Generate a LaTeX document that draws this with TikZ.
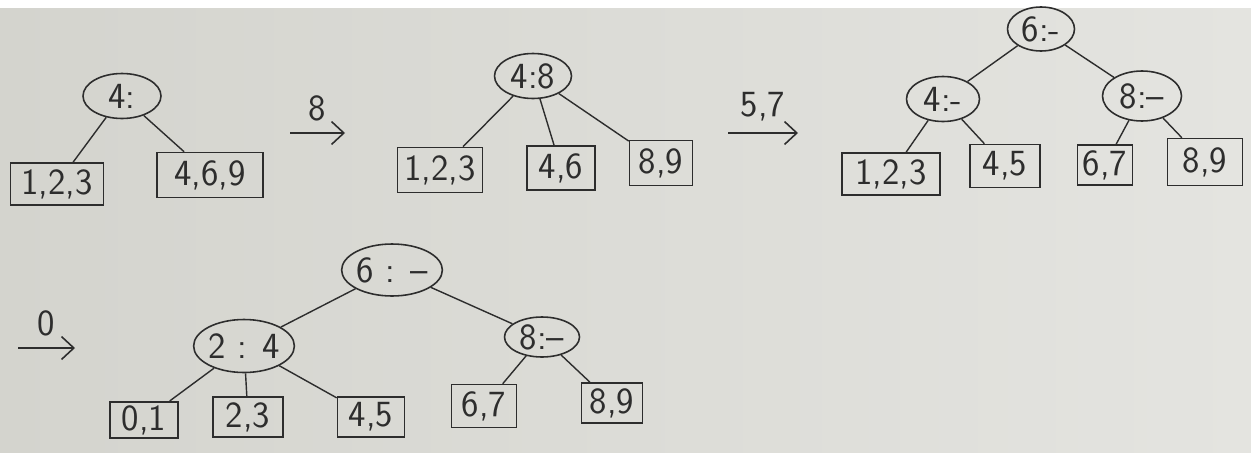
\documentclass[tikz,border=0pt]{standalone}
\usepackage{tikz}
\usetikzlibrary{shapes.geometric,arrows.meta}
\definecolor{ink}{RGB}{45,45,45}
\definecolor{paperL}{RGB}{212,212,206}
\definecolor{paperR}{RGB}{228,228,224}

\begin{document}
\begin{tikzpicture}[x=0.02cm, y=-0.02cm,
  every node/.style={font=\sffamily\fontsize{21}{24}\selectfont, text=ink},
  keyn/.style={draw=ink, line width=0.9pt, ellipse, inner sep=0pt, minimum width=1.5cm, minimum height=0.9cm},
  leaf/.style={draw=ink, line width=0.9pt, rectangle, inner sep=2pt, minimum height=0.84cm},
  edge/.style={draw=ink, line width=0.8pt},
  step arrow/.style={draw=ink, line width=0.9pt, -{Straight Barb[length=7pt, width=13pt]}}]
\useasboundingbox (0,0) rectangle (1251,460);
\shade[left color=paperL, right color=paperR] (0,8) rectangle (1251,452);
% first tree
\node[keyn, minimum width=1.56cm] (r1) at (122,96) {4:};
\node[leaf, minimum width=1.86cm] (a1) at (57,184) {1,2,3};
\node[leaf, minimum width=2.12cm, minimum height=0.9cm] (b1) at (210,175) {4,6,9};
\draw[edge] (r1) -- (a1);
\draw[edge] (r1) -- (b1);
\coordinate (s1) at (290,133);
\coordinate (t1) at (345,133);
\draw[step arrow] (s1) -- node[above=3pt]{8} (t1);
% second tree
\node[keyn, minimum width=1.54cm] (r2) at (533,76) {4:8};
\node[leaf, minimum width=1.7cm, minimum height=0.9cm] (a2) at (440,170) {1,2,3};
\node[leaf, minimum width=1.36cm, minimum height=0.88cm] (b2) at (561,168) {4,6};
\node[leaf, minimum width=1.26cm, minimum height=0.9cm] (c2) at (661,163) {8,9};
\draw[edge] (r2) -- (a2);
\draw[edge] (r2) -- (b2);
\draw[edge] (r2) -- (c2);
\coordinate (s2) at (728,133);
\coordinate (t2) at (798,133);
\draw[step arrow] (s2) -- node[above=3pt]{5,7} (t2);
% third tree
\node[keyn, minimum width=1.34cm, minimum height=0.88cm] (r3) at (1041,29) {6:-};
\node[keyn, minimum width=1.46cm, minimum height=0.9cm] (p3) at (943,99) {4:-};
\node[keyn, minimum width=1.58cm, minimum height=1cm] (q3) at (1142,96) {8:--};
\node[leaf, minimum width=1.96cm] (a3) at (891,174) {1,2,3};
\node[leaf, minimum width=1.4cm, minimum height=0.86cm] (b3) at (1005,166) {4,5};
\node[leaf, minimum width=1.1cm, minimum height=0.8cm] (c3) at (1105,165) {6,7};
\node[leaf, minimum width=1.5cm, minimum height=0.94cm] (d3) at (1205,162) {8,9};
\draw[edge] (r3) -- (p3);
\draw[edge] (r3) -- (q3);
\draw[edge] (p3) -- (a3);
\draw[edge] (p3) -- (b3);
\draw[edge] (q3) -- (c3);
\draw[edge] (q3) -- (d3);
% fourth tree
\coordinate (s3) at (18,348);
\coordinate (t3) at (75,348);
\draw[step arrow] (s3) -- node[above=3pt]{0} (t3);
\node[keyn, minimum width=1.7cm, minimum height=1.04cm] (r4) at (392,270) {6 : --};
\node[keyn, minimum width=1.56cm, minimum height=1.06cm] (p4) at (244,346) {2 : 4};
\node[keyn, minimum width=1.5cm, minimum height=0.8cm] (q4) at (542,337) {8:--};
\node[leaf, minimum width=1.36cm, minimum height=0.7cm] (a4) at (144,420) {0,1};
\node[leaf, minimum width=1.4cm, minimum height=0.8cm] (b4) at (248,417) {2,3};
\node[leaf, minimum width=1.34cm, minimum height=0.8cm] (c4) at (371,417) {4,5};
\node[leaf, minimum width=1.3cm, minimum height=0.86cm] (d4) at (484,406) {6,7};
\node[leaf, minimum width=1.22cm, minimum height=0.8cm] (e4) at (612,403) {8,9};
\draw[edge] (r4) -- (p4);
\draw[edge] (r4) -- (q4);
\draw[edge] (p4) -- (a4);
\draw[edge] (p4) -- (b4);
\draw[edge] (p4) -- (c4);
\draw[edge] (q4) -- (d4);
\draw[edge] (q4) -- (e4);
\end{tikzpicture}
\end{document}
